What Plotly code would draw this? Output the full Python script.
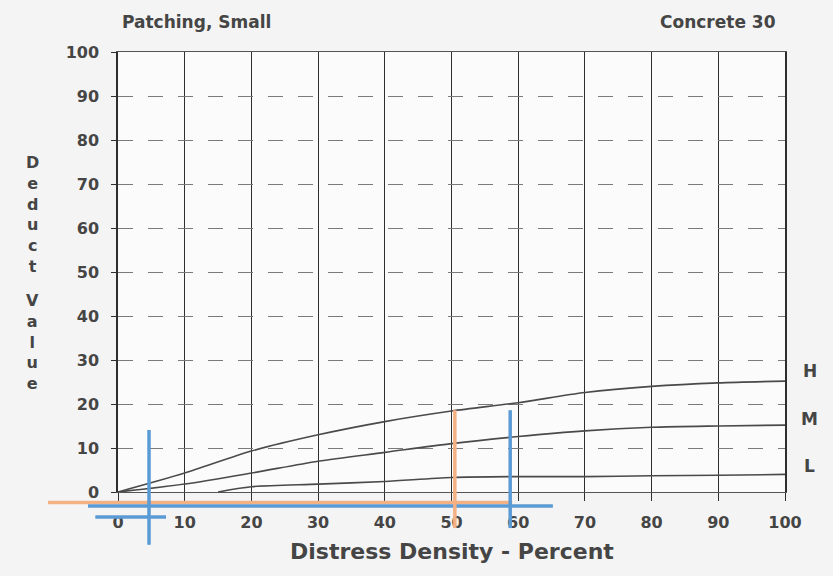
import plotly.graph_objects as go

# ---- data ----
density = [0, 10, 20, 30, 40, 50, 60, 70, 80, 90, 100]
deduct_H = [0, 4.3, 9.3, 13.0, 16.0, 18.4, 20.3, 22.6, 24.0, 24.8, 25.2]
deduct_M = [0, 1.8, 4.3, 7.0, 9.0, 11.0, 12.6, 13.9, 14.7, 15.0, 15.2]
density_L = [15, 20, 30, 40, 50, 60, 70, 80, 90, 100]
deduct_L = [0, 1.2, 1.8, 2.4, 3.3, 3.5, 3.5, 3.7, 3.8, 4.0]
severity_labels = ["H", "M", "L"]
severity_label_y = [27.5, 16.6, 5.9]

x_ticks = list(range(0, 101, 10))
y_ticks = list(range(0, 101, 10))
X_RANGE = [0, 100]
Y_RANGE = [0, 100]

# hand-drawn annotation strokes on the scan (data units)
# horizontal: (x0, x1, y, color); vertical: (x, y0, y1, color)
BLUE = "#5b9bd5"
ORANGE = "#f4b183"
h_strokes = [(-10.5, 59.1, -2.4, ORANGE), (-4.5, 65.2, -3.2, BLUE), (-3.4, 7.2, -5.7, BLUE)]
v_strokes = [(4.65, 14.1, -12.0, BLUE), (50.5, 18.6, -8.2, ORANGE), (58.8, 18.6, -8.2, BLUE)]


def px(v):
    return (v - X_RANGE[0]) / (X_RANGE[1] - X_RANGE[0])


def py(v):
    return (v - Y_RANGE[0]) / (Y_RANGE[1] - Y_RANGE[0])


FONT = "DejaVu Sans"
TXT = "#454545"
CURVE = "#4a4a4a"

fig = go.Figure()
for xs, ys in [(density, deduct_H), (density, deduct_M), (density_L, deduct_L)]:
    fig.add_trace(go.Scatter(x=xs, y=ys, mode="lines",
                             line=dict(color=CURVE, width=1.6, shape="spline", smoothing=0.8),
                             showlegend=False, hoverinfo="skip"))

shapes = []
for x0, x1, y, c in h_strokes:
    shapes.append(dict(type="line", xref="paper", yref="paper", x0=px(x0), x1=px(x1),
                       y0=py(y), y1=py(y), line=dict(color=c, width=3.5), layer="above"))
for x, y0, y1, c in v_strokes:
    shapes.append(dict(type="line", xref="paper", yref="paper", x0=px(x), x1=px(x),
                       y0=py(y0), y1=py(y1), line=dict(color=c, width=3.5), layer="above"))

annotations = [
    dict(text="<b>Patching, Small</b>", xref="paper", yref="paper", x=0.003, y=1.068,
         xanchor="left", yanchor="middle", showarrow=False,
         font=dict(family=FONT, size=17, color=TXT)),
    dict(text="<b>Concrete 30</b>", xref="paper", yref="paper", x=0.99, y=1.068,
         xanchor="right", yanchor="middle", showarrow=False,
         font=dict(family=FONT, size=17, color=TXT)),
    dict(text="<b>" + "<br>".join("Deduct") + "</b>", xref="paper", yref="paper", x=-0.128, y=0.63,
         xanchor="center", yanchor="middle", showarrow=False,
         font=dict(family=FONT, size=16, color=TXT)),
    dict(text="<b>" + "<br>".join("Value") + "</b>", xref="paper", yref="paper", x=-0.128, y=0.34,
         xanchor="center", yanchor="middle", showarrow=False,
         font=dict(family=FONT, size=16, color=TXT)),
    dict(text="<b>Distress Density - Percent</b>", xref="paper", yref="paper", x=0.5, y=-0.136,
         xanchor="center", yanchor="middle", showarrow=False,
         font=dict(family=FONT, size=22, color=TXT)),
]
for lab, yv in zip(severity_labels, severity_label_y):
    annotations.append(dict(text="<b>" + lab + "</b>", xref="paper", yref="y", x=1.037, y=yv,
                            xanchor="center", yanchor="middle", showarrow=False,
                            font=dict(family=FONT, size=17, color=TXT)))

fig.update_layout(
    width=833, height=576,
    margin=dict(l=118, r=48, t=52, b=84),
    paper_bgcolor="#f4f4f4",
    plot_bgcolor="#fbfbfb",
    shapes=shapes,
    annotations=annotations,
    xaxis=dict(range=X_RANGE, tickvals=x_ticks, ticktext=["<b>%d</b>" % v for v in x_ticks],
               showgrid=True, gridcolor="#2e2e2e", gridwidth=1.3,
               showline=True, linecolor="#555555", linewidth=1, mirror=True,
               ticks="outside", ticklen=8, tickcolor="#2e2e2e", tickwidth=1.3,
               ticklabelstandoff=8, zeroline=False,
               tickfont=dict(family=FONT, size=16, color=TXT)),
    yaxis=dict(range=Y_RANGE, tickvals=y_ticks, ticktext=["<b>%d</b>" % v for v in y_ticks],
               showgrid=True, gridcolor="#7a7a7a", gridwidth=1, griddash="longdash",
               showline=True, linecolor="#2e2e2e", linewidth=1.5, mirror=True,
               ticks="outside", ticklen=5, tickcolor="#2e2e2e",
               ticklabelstandoff=9, zeroline=False,
               tickfont=dict(family=FONT, size=16, color=TXT)),
)

fig.write_html("out.html")
